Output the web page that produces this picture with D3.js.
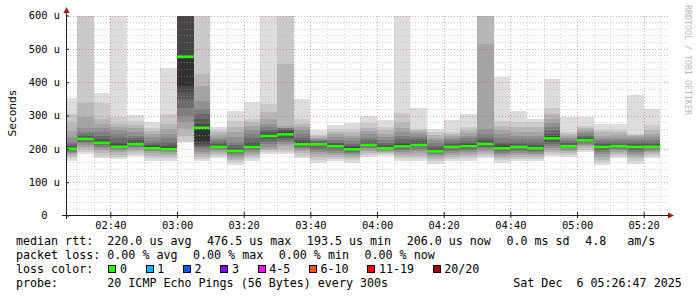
<!DOCTYPE html>
<html>
<head>
<meta charset="utf-8">
<script src="https://cdn.jsdelivr.net/npm/d3@7"></script>
<style>
  body { margin: 0; background: #fff; }
  svg { display: block; font-family: 'DejaVu Sans Mono', monospace; }
  text { white-space: pre; }
</style>
</head>
<body>
<svg id="chart"></svg>
<script>
// 5 minute steps, each bar ends at this time
var times = ['02:30', '02:35', '02:40', '02:45', '02:50', '02:55',
  '03:00', '03:05', '03:10', '03:15', '03:20', '03:25', '03:30', '03:35', '03:40', '03:45', '03:50', '03:55',
  '04:00', '04:05', '04:10', '04:15', '04:20', '04:25', '04:30', '04:35', '04:40', '04:45', '04:50', '04:55',
  '05:00', '05:05', '05:10', '05:15', '05:20', '05:25']

// median rtt in microseconds
var medians = [200, 230, 218, 206, 214, 202, 199, 476, 263, 206, 193.5, 205.5, 238.5, 243.5, 213.5, 213.5,
  207.5, 198.5, 211.5, 201.5, 207.5, 211.5, 192.5, 205.5, 208, 214.5, 201.5, 205.5, 201.5, 231.5, 208,
  225.5, 205.5, 208, 205.5, 206]

// lost pings out of 20
var lossCounts = [0, 0, 0, 0, 0, 0, 0, 0, 0, 0, 0, 0, 0, 0, 0, 0, 0, 0,
  0, 0, 0, 0, 0, 0, 0, 0, 0, 0, 0, 0, 0, 0, 0, 0, 0, 0]

// the 20 sorted pings of every step (us)
var pings = [
  [165, 172, 178, 184, 188, 192, 195, 197, 199, 200, 201, 204, 208, 214, 222, 235, 255, 280, 305, 352],
  [186, 190, 199, 206, 212, 218, 222, 226, 228, 230, 232, 236, 240, 246, 252, 262, 296, 339, 620, 620],
  [174, 180, 188, 196, 202, 207, 211, 214, 216, 218, 220, 224, 230, 238, 250, 262, 275, 290, 339, 367],
  [169, 176, 183, 190, 196, 200, 203, 205, 206, 207, 209, 214, 222, 232, 244, 256, 266, 276, 296, 620],
  [179, 186, 192, 198, 203, 207, 210, 212, 214, 215, 217, 221, 226, 232, 240, 250, 262, 272, 285, 302],
  [164, 172, 180, 187, 193, 197, 200, 201, 202, 203, 205, 208, 212, 218, 225, 235, 245, 255, 264, 282],
  [164, 172, 180, 186, 191, 195, 197, 198, 199, 200, 202, 206, 212, 220, 232, 245, 260, 275, 304, 442],
  [220, 222, 240, 259, 280, 300, 324, 350, 370, 389, 476, 620, 620, 620, 620, 620, 620, 620, 620, 620],
  [164, 170, 176, 184, 192, 200, 205, 210, 214, 225, 264, 275, 289, 305, 319, 345, 389, 424, 620, 620],
  [174, 180, 186, 191, 196, 200, 203, 205, 206, 207, 208, 211, 215, 220, 226, 234, 242, 250, 258, 266],
  [152, 160, 167, 174, 180, 185, 189, 191, 192, 193, 194, 198, 204, 212, 222, 235, 250, 265, 284, 314],
  [164, 172, 180, 186, 192, 197, 201, 203, 205, 206, 208, 212, 220, 234, 246, 258, 270, 280, 289, 342],
  [184, 190, 196, 200, 206, 214, 222, 230, 235, 238, 240, 244, 250, 258, 266, 276, 290, 310, 334, 620],
  [184, 190, 200, 208, 216, 222, 228, 234, 240, 244, 248, 252, 256, 260, 262, 264, 268, 454, 620, 620],
  [174, 180, 188, 194, 199, 203, 207, 210, 212, 214, 216, 220, 226, 234, 244, 256, 266, 274, 290, 349],
  [159, 168, 176, 184, 192, 198, 204, 208, 211, 213, 215, 218, 221, 224, 227, 230, 234, 238, 242, 256],
  [164, 170, 176, 182, 188, 194, 199, 203, 206, 208, 210, 213, 217, 222, 228, 236, 244, 252, 260, 272],
  [159, 166, 172, 178, 184, 188, 192, 195, 197, 199, 201, 205, 210, 216, 224, 232, 240, 250, 260, 279],
  [176, 182, 188, 194, 199, 203, 206, 208, 210, 211, 213, 216, 220, 226, 234, 244, 254, 264, 278, 299],
  [179, 184, 188, 192, 195, 198, 199, 200, 201, 202, 203, 206, 211, 218, 226, 236, 246, 256, 266, 286],
  [164, 172, 180, 186, 192, 197, 201, 204, 206, 208, 210, 214, 220, 230, 240, 252, 264, 280, 309, 620],
  [164, 172, 180, 188, 195, 201, 205, 208, 210, 212, 214, 218, 223, 230, 237, 244, 250, 256, 259, 322],
  [156, 164, 170, 176, 181, 185, 188, 190, 192, 193, 195, 198, 203, 210, 218, 226, 234, 242, 250, 259],
  [164, 170, 176, 182, 188, 193, 198, 202, 204, 205, 207, 210, 214, 220, 226, 232, 238, 244, 250, 286],
  [164, 172, 180, 186, 192, 197, 201, 204, 206, 208, 210, 214, 219, 225, 232, 240, 248, 256, 265, 304],
  [174, 180, 186, 192, 198, 203, 207, 210, 213, 215, 217, 220, 226, 234, 246, 259, 514, 620, 620, 620],
  [159, 166, 172, 178, 184, 189, 194, 197, 200, 202, 204, 208, 214, 222, 232, 244, 256, 270, 284, 416],
  [164, 170, 176, 182, 188, 193, 198, 202, 204, 205, 207, 210, 215, 222, 230, 240, 252, 266, 282, 314],
  [164, 170, 176, 181, 186, 191, 195, 198, 200, 201, 203, 207, 212, 220, 230, 240, 252, 266, 280, 289],
  [179, 186, 192, 198, 204, 210, 216, 222, 228, 231, 233, 238, 246, 256, 266, 278, 290, 304, 324, 409],
  [176, 182, 188, 194, 198, 202, 205, 207, 208, 209, 210, 213, 217, 222, 228, 234, 240, 244, 250, 296],
  [190, 196, 202, 208, 212, 216, 220, 222, 224, 226, 227, 230, 234, 240, 246, 252, 258, 264, 270, 296],
  [152, 160, 168, 176, 184, 190, 196, 200, 204, 205, 207, 210, 214, 220, 226, 232, 240, 250, 258, 274],
  [174, 180, 186, 192, 197, 201, 204, 206, 207, 208, 209, 212, 216, 222, 228, 234, 242, 250, 258, 274],
  [156, 164, 172, 180, 186, 192, 197, 201, 204, 205, 207, 210, 214, 220, 226, 232, 238, 242, 246, 361],
  [172, 178, 184, 190, 195, 199, 202, 204, 205, 206, 207, 210, 214, 220, 228, 236, 246, 258, 272, 319]
]

var lossLabels = ['0', '1', '2', '3', '4-5', '6-10', '11-19', '20/20']
var lossColors = ['#26ff00', '#00b8ff', '#0059ff', '#7e00ff', '#ff00ff', '#ff5500', '#ff0000', '#a10000']
var lossLimits = [0, 1, 2, 3, 5, 10, 19, 20]

var rttStats = ['220.0 us avg', '476.5 us max', '193.5 us min', '206.0 us now', '0.0 ms sd', '4.8   am/s']
var lossStats = ['0.00 % avg', '0.00 % max', '0.00 % min', '0.00 % now']
var probeText = '20 ICMP Echo Pings (56 Bytes) every 300s'
var stampText = 'Sat Dec  6 05:26:47 2025'

var width = 697
var height = 297

var svg = d3.select('#chart')
  .attr('width', width)
  .attr('height', height)

var parseTime = d3.timeParse('%Y-%m-%d %H:%M:%S')
var startTime = parseTime('2025-12-06 02:26:47')
var endTime = parseTime('2025-12-06 05:26:47')

var xPositionScale = d3.scaleTime()
  .domain([startTime, endTime])
  .range([66.3, 666.3])

var yPositionScale = d3.scaleLinear()
  .domain([0, 600])
  .range([215.5, 15.5])

var yTop = yPositionScale.domain()[1]

var steps = times.map(function (t, i) {
  var stepEnd = parseTime('2025-12-06 ' + t + ':00')
  var stepStart = d3.timeMinute.offset(stepEnd, -5)
  if (stepStart < startTime) stepStart = startTime
  return { start: stepStart, end: stepEnd, pings: pings[i], median: medians[i], loss: lossCounts[i] }
})

/* smoke: pairs of pings, outside light, inside dark */
var half = 10
var layers = []
steps.forEach(function (s) {
  for (var ibot = 1; ibot <= half; ibot++) {
    var itop = 21 - ibot
    var g = Math.floor(190 / half * (half - ibot)) + 50
    layers.push({
      start: s.start,
      end: s.end,
      lo: s.pings[ibot - 1],
      hi: Math.min(s.pings[itop - 1], yTop),
      color: d3.rgb(g, g, g).formatHex()
    })
  }
})

svg.append('g')
  .attr('class', 'smoke')
  .selectAll('rect')
  .data(layers)
  .enter()
  .append('rect')
  .attr('x', d => xPositionScale(d.start))
  .attr('width', d => xPositionScale(d.end) - xPositionScale(d.start))
  .attr('y', d => yPositionScale(d.hi))
  .attr('height', d => yPositionScale(d.lo) - yPositionScale(d.hi))
  .attr('fill', d => d.color)
  .attr('shape-rendering', 'crispEdges')

/* grid */
var grid = svg.append('g').attr('class', 'grid')
var minorColor = 'rgba(170,170,170,0.5)'
var majorColor = 'rgba(210,60,60,0.45)'
var gridRight = 668

var yMinor = yPositionScale.ticks(30).filter(d => d % 100 !== 0)
var yMajor = yPositionScale.ticks(6)

grid.selectAll('.y-minor')
  .data(yMinor)
  .enter()
  .append('line')
  .attr('x1', 67).attr('x2', gridRight)
  .attr('y1', d => Math.round(yPositionScale(d)) + 0.5)
  .attr('y2', d => Math.round(yPositionScale(d)) + 0.5)
  .attr('stroke', minorColor)
  .attr('stroke-dasharray', '1,2')

var xMinor = xPositionScale.ticks(d3.timeMinute.every(5)).filter(d => d.getMinutes() % 20 !== 0)
var xMajor = xPositionScale.ticks(d3.timeMinute.every(20))

grid.selectAll('.x-minor')
  .data(xMinor)
  .enter()
  .append('line')
  .attr('x1', d => Math.round(xPositionScale(d)) + 0.5)
  .attr('x2', d => Math.round(xPositionScale(d)) + 0.5)
  .attr('y1', 215).attr('y2', 15)
  .attr('stroke', minorColor)
  .attr('stroke-dasharray', '1,2')

grid.selectAll('.y-major')
  .data(yMajor.filter(d => d > 0))
  .enter()
  .append('line')
  .attr('x1', 67).attr('x2', gridRight)
  .attr('y1', d => Math.round(yPositionScale(d)) + 0.5)
  .attr('y2', d => Math.round(yPositionScale(d)) + 0.5)
  .attr('stroke', majorColor)
  .attr('stroke-dasharray', '1,2')

grid.selectAll('.x-major')
  .data(xMajor)
  .enter()
  .append('line')
  .attr('x1', d => Math.round(xPositionScale(d)) + 0.5)
  .attr('x2', d => Math.round(xPositionScale(d)) + 0.5)
  .attr('y1', 215).attr('y2', 15)
  .attr('stroke', majorColor)
  .attr('stroke-dasharray', '1,2')

/* median marker, colored by loss */
function lossColor(n) {
  for (var i = 0; i < lossLimits.length; i++) {
    if (n <= lossLimits[i]) return lossColors[i]
  }
  return lossColors[lossColors.length - 1]
}

svg.append('g')
  .attr('class', 'median')
  .selectAll('rect')
  .data(steps)
  .enter()
  .append('rect')
  .attr('x', d => xPositionScale(d.start))
  .attr('width', d => xPositionScale(d.end) - xPositionScale(d.start))
  .attr('y', d => yPositionScale(d.median) - 1.3)
  .attr('height', 2.6)
  .attr('fill', d => lossColor(d.loss))

/* axes */
var axisColor = '#202020'
var arrowColor = '#a01818'

var xAxis = d3.axisBottom(xPositionScale)
  .ticks(d3.timeMinute.every(20))
  .tickFormat(d3.timeFormat('%H:%M'))
  .tickSize(3)
  .tickPadding(4)

svg.append('g')
  .attr('class', 'axis x-axis')
  .attr('transform', 'translate(0,215)')
  .call(xAxis)
  .call(g => g.select('.domain').remove())
  .call(g => g.selectAll('.tick line').attr('stroke', axisColor).attr('y1', -3))
  .call(g => g.selectAll('.tick text')
    .attr('font-family', 'DejaVu Sans Mono')
    .attr('font-size', 10.4)
    .attr('fill', '#000'))

var yAxis = d3.axisLeft(yPositionScale)
  .ticks(6)
  .tickFormat(d => d === 0 ? '0  ' : d + ' u')
  .tickSize(3)
  .tickPadding(4)

svg.append('g')
  .attr('class', 'axis y-axis')
  .attr('transform', 'translate(67,0)')
  .call(yAxis)
  .call(g => g.select('.domain').remove())
  .call(g => g.selectAll('.tick line').attr('stroke', axisColor).attr('x2', 2))
  .call(g => g.selectAll('.tick text')
    .attr('font-family', 'DejaVu Sans Mono')
    .attr('font-size', 10.4)
    .attr('fill', '#000'))

svg.append('line')
  .attr('x1', 62).attr('x2', 669)
  .attr('y1', 215.5).attr('y2', 215.5)
  .attr('stroke', axisColor)

svg.append('line')
  .attr('x1', 66.5).attr('x2', 66.5)
  .attr('y1', 219).attr('y2', 11)
  .attr('stroke', axisColor)

svg.append('path')
  .attr('d', 'M668,212.5L674,215.5L668,218.5Z')
  .attr('fill', arrowColor)

svg.append('path')
  .attr('d', 'M63.5,13L66.5,7L69.5,13Z')
  .attr('fill', arrowColor)

svg.append('text')
  .attr('transform', 'translate(15.5,113) rotate(-90)')
  .attr('text-anchor', 'middle')
  .attr('font-size', 11.2)
  .text('Seconds')

svg.append('text')
  .attr('transform', 'translate(684.5,5) rotate(90)')
  .attr('font-size', 8.3)
  .attr('fill', '#b8b8b8')
  .text('RRDTOOL / TOBI OETIKER')

/* legend */
var charW = 7.02
var legend = svg.append('g')
  .attr('class', 'legend')
  .attr('font-size', 11.66)
  .attr('fill', '#000')

var rowNames = ['median rtt:', 'packet loss:', 'loss color:', 'probe:']
var rowY = [244.5, 258.5, 272.5, 286.5]

legend.selectAll('.row-name')
  .data(rowNames)
  .enter()
  .append('text')
  .attr('x', 16)
  .attr('y', (d, i) => rowY[i])
  .text(d => d)

function placeItems(items, y, padChars) {
  var xPos = 107.3
  items.forEach(function (t) {
    legend.append('text').attr('x', xPos).attr('y', y).text(t)
    xPos += (t.length + padChars) * charW + 1.5
  })
}

placeItems(rttStats, rowY[0], 2)
placeItems(lossStats, rowY[1], 2)

var lx = 108.3
lossLabels.forEach(function (label, i) {
  legend.append('rect')
    .attr('x', lx + 0.5).attr('y', rowY[2] - 7.5)
    .attr('width', 7).attr('height', 7)
    .attr('fill', lossColors[i])
    .attr('stroke', '#000')
    .attr('shape-rendering', 'crispEdges')
  legend.append('text').attr('x', lx + 11.7).attr('y', rowY[2]).text(label)
  lx += (label.length + 4) * charW + 2.2
})

legend.append('text').attr('x', 107.3).attr('y', rowY[3]).text(probeText)
legend.append('text').attr('x', 513.3).attr('y', rowY[3]).text(stampText)
</script>
</body>
</html>
